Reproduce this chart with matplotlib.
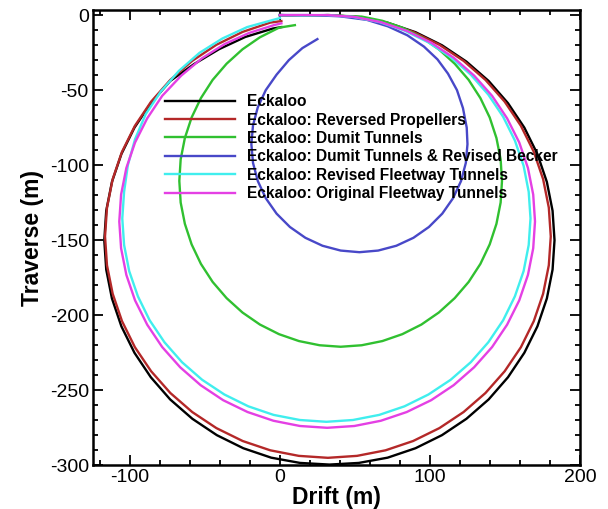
import matplotlib
matplotlib.use("Agg")
import matplotlib.pyplot as plt
from matplotlib.ticker import MultipleLocator

plt.rcParams['font.family'] = ['Liberation Sans', 'DejaVu Sans']
plt.rcParams['axes.unicode_minus'] = False

# turning-circle tracks (drift, traverse) in metres
eck_x = [0, 16, 33, 52.6, 71.8, 90.4, 108, 124.3, 139.1, 152, 162.9, 171.6, 177.9, 181.7, 183,
         181.7, 177.9, 171.6, 162.9, 152, 139.1, 124.3, 108, 90.4, 71.8, 52.6, 33, 13.4, -5.8,
         -24.4, -42, -58.3, -73.1, -86, -96.9, -105.6, -111.9, -115.7, -117, -115.7, -111.9,
         -105.6, -96.9, -86, -73.1, -57.1, -40.5, -23.1, -4.8, 1]
eck_y = [0, -0.3, 0, -1.3, -5.1, -11.4, -20.1, -31, -43.9, -58.7, -75, -92.6, -111.2, -130.4, -150,
         -169.6, -188.8, -207.4, -225, -241.3, -256.1, -269, -279.9, -288.6, -294.9, -298.4, -299.5,
         -298.4, -294.9, -288.6, -279.9, -269, -256.1, -241.3, -225, -207.4, -188.8, -169.6, -150,
         -130.4, -111.2, -92.6, -75, -58.7, -43.9, -32.6, -22.7, -14.6, -9, -8]

rev_x = [0, 16, 32, 51.4, 70.4, 88.8, 106.3, 122.4, 137, 149.8, 160.6, 169.2, 175.4, 179.2, 180.5,
         179.2, 175.4, 169.2, 160.6, 149.8, 137, 122.4, 106.3, 88.8, 70.4, 51.4, 32, 12.6, -6.4,
         -24.8, -42.3, -58.4, -73, -85.8, -96.6, -105.2, -111.4, -115.2, -116.5, -115.2, -111.4,
         -105.2, -96.6, -85.8, -73, -58.4, -42.3, -24.8, -6.4, 1]
rev_y = [0, -0.5, 0, -1.3, -5, -11.2, -19.8, -30.5, -43.2, -57.7, -73.8, -91.1, -109.3, -128.3,
         -147.5, -166.7, -185.7, -203.9, -221.3, -237.3, -251.8, -264.5, -275.2, -283.8, -290,
         -293.7, -295, -293.7, -290, -283.8, -275.2, -264.5, -251.8, -237.3, -221.3, -203.9, -185.7,
         -166.7, -147.5, -128.3, -109.3, -91.1, -73.8, -57.7, -43.2, -30.5, -19.8, -11.2, -5, -4]

dum_x = [0, 20, 40.5, 54.5, 68.3, 81.6, 94.3, 105.9, 116.5, 125.8, 133.6, 139.8, 144.3, 147.1, 148,
         147.1, 144.3, 139.8, 133.6, 125.8, 116.5, 105.9, 94.3, 81.6, 68.3, 54.5, 40.5, 26.5, 12.7,
         -0.6, -13.3, -24.9, -35.5, -44.8, -52.6, -58.8, -63.3, -66.1, -67, -66.1, -63.3, -58.8,
         -52.6, -44.8, -35.5, -24.9, -13.3, -0.6, 10]
dum_y = [0, -0.3, -0.5, -1, -3.8, -8.4, -14.8, -22.8, -32.4, -43.2, -55.3, -68.2, -81.9, -96.1,
         -110.5, -124.9, -139.1, -152.8, -165.8, -177.8, -188.6, -198.2, -206.2, -212.6, -217.2,
         -220, -221, -220, -217.2, -212.6, -206.2, -198.2, -188.6, -177.8, -165.8, -152.8, -139.1,
         -124.9, -110.5, -96.1, -81.9, -68.2, -55.3, -43.2, -32.4, -22.8, -14.8, -8.4, -6.7]

bec_x = [0, 20, 40, 58, 72, 85, 96, 105, 112, 118, 122, 124.5, 125, 123.9, 120.7, 115.4, 108.2, 99.3,
         89, 77.6, 65.5, 53, 40.5, 28.4, 17, 6.7, -2.2, -9.4, -14.7, -17.9, -19, -17.9, -14.7, -9.4,
         -2.2, 6, 15, 25]
bec_y = [0, 0, -0.8, -3.2, -7.5, -13.5, -21, -29.5, -39, -50, -62, -75, -86, -98.5, -110.6, -122,
         -132.3, -141.2, -148.4, -153.7, -156.9, -158, -156.9, -153.7, -148.4, -141.2, -132.3, -122,
         -110.6, -98.5, -86, -73.5, -61.4, -50, -39.7, -30, -22, -16]

rft_x = [0, 15, 31, 48.7, 66.2, 83, 99, 113.8, 127.2, 138.9, 148.8, 156.6, 162.4, 165.8, 167, 165.8,
         162.4, 156.6, 148.8, 138.9, 127.2, 113.8, 99, 83, 66.2, 48.7, 31, 13.3, -4.2, -21, -37,
         -51.8, -65.2, -76.9, -86.8, -94.6, -100.4, -103.8, -105, -103.8, -101.3, -96.5, -89.4,
         -79.3, -67.3, -53.6, -38.3, -21.8, -4.5, 0]
rft_y = [0, -0.3, 0, -1.2, -4.6, -10.3, -18.2, -28, -39.7, -53, -67.8, -83.6, -100.4, -117.8, -135.5,
         -153.2, -170.6, -187.4, -203.3, -218, -231.3, -243, -252.8, -260.7, -266.4, -269.8, -271,
         -269.8, -266.4, -260.7, -252.8, -243, -231.3, -218, -203.3, -187.4, -170.6, -153.2, -135.5,
         -117.8, -100, -82.7, -66, -50.9, -37.2, -25.2, -15.6, -8, -3.2, -2]

oft_x = [0, 15, 31.5, 49.6, 67.3, 84.5, 100.8, 115.8, 129.4, 141.4, 151.4, 159.5, 165.3, 168.8, 170,
         168.8, 165.3, 159.5, 151.4, 141.4, 129.4, 115.8, 100.8, 84.5, 67.3, 49.6, 31.5, 13.4, -4.3,
         -21.5, -37.8, -52.8, -66.4, -78.4, -88.4, -96.5, -102.3, -105.8, -107, -105.8, -102.3, -96.5,
         -88.4, -78.4, -65.7, -51.9, -36.8, -20.5, -3.6, 1]
oft_y = [0, 0, 0, -1.2, -4.7, -10.5, -18.4, -28.4, -40.3, -53.8, -68.8, -84.9, -101.9, -119.6, -137.5,
         -155.4, -173.1, -190.1, -206.3, -221.2, -234.7, -246.6, -256.6, -264.5, -270.3, -273.8, -275,
         -273.8, -270.3, -264.5, -256.6, -246.6, -234.7, -221.2, -206.3, -190.1, -173.1, -155.4,
         -137.5, -119.6, -101.9, -84.9, -68.8, -53.8, -40.3, -28.8, -19.3, -11.9, -6.6, -5.5]

labels = ['Eckaloo',
          'Eckaloo: Reversed Propellers',
          'Eckaloo: Dumit Tunnels',
          'Eckaloo: Dumit Tunnels & Revised Becker',
          'Eckaloo: Revised Fleetway Tunnels',
          'Eckaloo: Original Fleetway Tunnels']
colors = ['#000000', '#b42828', '#30c030', '#4848c8', '#40eeee', '#e440e4']
tracks = [(eck_x, eck_y), (rev_x, rev_y), (dum_x, dum_y),
          (bec_x, bec_y), (rft_x, rft_y), (oft_x, oft_y)]

fig = plt.figure(figsize=(6.08, 5.09), dpi=100)
ax = fig.add_axes([0.153, 0.0845, 0.801, 0.8975])

for (xs, ys), c, lab in zip(tracks, colors, labels):
    ax.plot(xs, ys, color=c, lw=1.7, label=lab, solid_joinstyle='round')

ax.set_xlim(-124.5, 200)
ax.set_ylim(-300, 3.5)
ax.set_aspect('equal')

ax.xaxis.set_major_locator(MultipleLocator(100))
ax.xaxis.set_minor_locator(MultipleLocator(20))
ax.yaxis.set_major_locator(MultipleLocator(50))
ax.yaxis.set_minor_locator(MultipleLocator(10))
ax.tick_params(which='both', direction='in', top=True, right=True,
               labelsize=14, width=1.3, pad=3)
ax.tick_params(which='major', length=7)
ax.tick_params(which='minor', length=3.5)
for s in ax.spines.values():
    s.set_linewidth(1.8)

ax.set_xlabel('Drift (m)', fontsize=16.5, fontweight='bold', labelpad=0)
ax.set_ylabel('Traverse (m)', fontsize=16.5, fontweight='bold', labelpad=4)

ax.legend(loc='upper left', bbox_to_anchor=(0.148, 0.815), frameon=False,
          prop={'weight': 'bold', 'size': 11.2}, handlelength=4.5, handletextpad=0.75,
          labelspacing=0.22, borderpad=0, borderaxespad=0)

fig.savefig('out.png', dpi=100)
